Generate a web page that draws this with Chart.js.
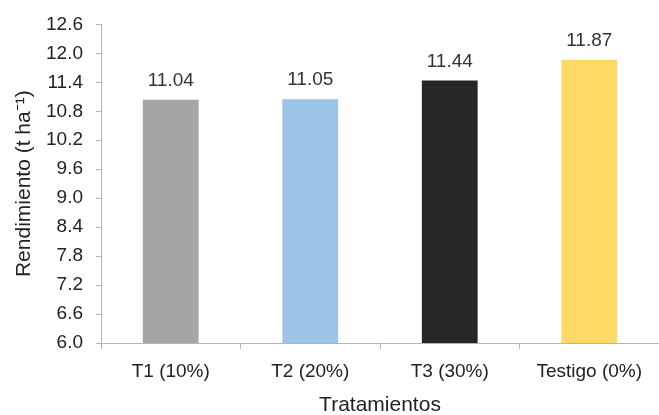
<!DOCTYPE html>
<html>
<head>
<meta charset="utf-8">
<script src="https://cdn.jsdelivr.net/npm/chart.js@4/dist/chart.umd.min.js"></script>
<style>
  html, body { margin: 0; padding: 0; background: #fff; overflow: hidden; }
  #wrap { width: 659px; height: 415px; position: relative; }
</style>
</head>
<body>
<div id="wrap"><canvas id="chart"></canvas></div>
<script>
// Data
const categories = ['T1 (10%)', 'T2 (20%)', 'T3 (30%)', 'Testigo (0%)'];
const rendimiento = [11.04, 11.05, 11.44, 11.87];
const barColors = ['#a5a5a5', '#9dc3e6', '#262626', '#ffd966'];
const yTicks = [6.0, 6.6, 7.2, 7.8, 8.4, 9.0, 9.6, 10.2, 10.8, 11.4, 12.0, 12.6];

const axisColor = '#b4b4b4';
const fontFamily = '"Liberation Sans", Arial, sans-serif';

// draws the value above each bar
const valueLabels = {
    id: 'valueLabels',
    afterDatasetsDraw(chart) {
        const ctx = chart.ctx;
        const meta = chart.getDatasetMeta(0);
        ctx.save();
        ctx.font = '19px ' + fontFamily;
        ctx.fillStyle = '#333333';
        ctx.textAlign = 'center';
        ctx.textBaseline = 'middle';
        meta.data.forEach((bar, i) => {
            ctx.fillText(rendimiento[i].toFixed(2), bar.x, bar.y - 19);
        });
        ctx.restore();
    }
};

const ctx = document.getElementById('chart').getContext('2d');
const chart = new Chart(ctx, {
    type: 'bar',
    data: {
        labels: categories,
        datasets: [{
            data: rendimiento,
            backgroundColor: barColors,
            borderWidth: 0,
            barPercentage: 0.4,
            categoryPercentage: 1.0
        }]
    },
    options: {
        responsive: true,
        maintainAspectRatio: false,
        animation: false,
        layout: { padding: { top: 21, right: 0, bottom: 0, left: 0 } },
        plugins: {
            legend: { display: false },
            tooltip: { enabled: false }
        },
        scales: {
            x: {
                grid: { drawOnChartArea: false, tickLength: 6, color: axisColor },
                border: { color: axisColor },
                ticks: { color: '#222', font: { family: fontFamily, size: 19 }, padding: 11, maxRotation: 0 },
                title: {
                    display: true,
                    text: 'Tratamientos',
                    color: '#222',
                    font: { family: fontFamily, size: 21 },
                    padding: { top: 0, bottom: -3 }
                },
                afterFit(scale) { scale.height = 72; }
            },
            y: {
                min: 6.0,
                max: 12.6,
                afterBuildTicks(scale) {
                    scale.ticks = yTicks.map(v => ({ value: v }));
                },
                grid: { drawOnChartArea: false, tickLength: 5, color: axisColor },
                border: { color: axisColor },
                ticks: {
                    color: '#222',
                    font: { family: fontFamily, size: 19 },
                    padding: 13,
                    callback: v => Number(v).toFixed(1)
                },
                title: {
                    display: true,
                    text: 'Rendimiento (t ha⁻¹)',
                    color: '#222',
                    font: { family: fontFamily, size: 21 },
                    padding: { top: 12, bottom: 0 }
                },
                afterFit(scale) { scale.width = 101; }
            }
        }
    },
    plugins: [valueLabels]
});
</script>
</body>
</html>
